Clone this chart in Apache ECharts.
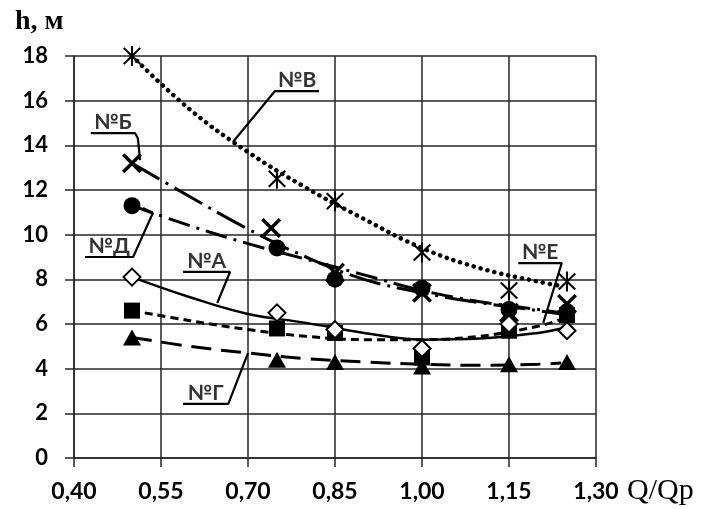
<!DOCTYPE html>
<html>
<head>
<meta charset="utf-8">
<script src="https://cdn.jsdelivr.net/npm/echarts@6/dist/echarts.min.js"></script>
<style>
  html, body { margin: 0; padding: 0; background: #fff; }
  #chart { width: 711px; height: 509px; }
</style>
</head>
<body>
<div id="chart"></div>
<script>
// axis ticks
const xTicks = [0.40, 0.55, 0.70, 0.85, 1.00, 1.15, 1.30]
const yTicks = [0, 2, 4, 6, 8, 10, 12, 14, 16, 18]

// measured points (Q/Qp, h)
const qPts = [0.50, 0.75, 0.85, 1.00, 1.15, 1.25]
const qPtsB = [0.50, 0.74, 0.85, 1.00, 1.15, 1.25]
const hV = [18.0, 12.5, 11.5, 9.2, 7.5, 7.9]    // №В
const hB = [13.2, 10.3, 8.3, 7.4, 6.5, 6.9]     // №Б
const hD = [11.3, 9.4, 8.0, 7.6, 6.65, 6.55]    // №Д
const hA = [8.1, 6.5, 5.75, 4.9, 6.0, 5.7]      // №А
const hE = [6.6, 5.8, 5.6, 4.5, 5.7, 6.4]       // №Е
const hG = [5.4, 4.4, 4.3, 4.1, 4.2, 4.3]       // №Г

// trend curves
const qTrend = [0.50, 0.60, 0.70, 0.80, 0.90, 1.00, 1.10, 1.20, 1.24]
const tV = [18.0, 15.6, 13.7, 12.1, 10.7, 9.4, 8.5, 7.9, 7.7]
const tB = [13.2, 11.7, 10.25, 9.0, 8.0, 7.4, 6.95, 6.6, 6.45]
const tD = [11.3, 10.4, 9.6, 8.9, 8.2, 7.5, 7.0, 6.65, 6.5]
const tA = [8.1, 7.2, 6.45, 6.05, 5.6, 5.3, 5.35, 5.6, 5.8]
const tE = [6.6, 6.15, 5.75, 5.45, 5.3, 5.3, 5.45, 5.9, 6.2]
const tG = [5.4, 5.0, 4.7, 4.45, 4.3, 4.2, 4.15, 4.2, 4.25]

// curve labels with leader lines (data coords)
const tagNames = ['№В', '№Б', '№Д', '№А', '№Г', '№Е']
const tagLeaders = [
  [[0.8224, 16.43], [0.7466, 16.43], [0.674, 14.15]],
  [[0.429, 14.55], [0.505, 14.55], [0.510, 14.33], [0.514, 13.34]],
  [[0.419, 9.0], [0.502, 9.0], [0.536, 10.97], [0.519, 11.19]],
  [[0.588, 8.33], [0.669, 8.33], [0.647, 6.94]],
  [[0.588, 2.42], [0.666, 2.42], [0.70, 4.70]],
  [[1.166, 8.73], [1.241, 8.73], [1.209, 6.05]]
]

const pair = (xs, ys) => xs.map((x, i) => [x, ys[i]])

const STAR = 'path://M-1,-10L1,-10L1,10L-1,10Z' +
  'M-7.29,-8.71L8.71,7.29L7.29,8.71L-8.71,-7.29Z' +
  'M7.29,-8.71L8.71,-7.29L-7.29,8.71L-8.71,7.29Z'
const CROSS = 'path://M-8.59,-11.41L11.41,8.59L8.59,11.41L-11.41,-8.59Z' +
  'M8.59,-11.41L11.41,-8.59L-8.59,11.41L-11.41,8.59Z'

const gridColor = '#262626'
const tickFont = { fontFamily: 'Lato', fontWeight: 'bold', color: '#000' }

const trend = (data, lineType, width, cap) => ({
  type: 'line',
  data: data,
  smooth: 0.4,
  showSymbol: false,
  silent: true,
  z: 2,
  lineStyle: { color: '#000', width: width, type: lineType, cap: cap || 'butt', opacity: 1 }
})

const points = (data, symbol, size, extra) => Object.assign({
  type: 'scatter',
  data: data,
  symbol: symbol,
  symbolSize: size,
  silent: true,
  z: 4,
  itemStyle: { color: '#000', opacity: 1 }
}, extra || {})

const series = [
  trend(pair(qTrend, tV), [0.1, 7], 4.5, 'round'),
  trend(pair(qTrend, tB), [32, 7, 3, 7], 3),
  trend(pair(qTrend, tD), [22, 7, 3, 7], 3),
  trend(pair(qTrend, tA), 'solid', 2.5),
  trend(pair(qTrend, tE), [8, 5], 3),
  trend(pair(qTrend, tG), [20, 10], 3),
  points(pair(qPtsB, hB), CROSS, [20, 20]),
  points(pair(qPts, hV), STAR, [18, 20]),
  points(pair(qPts, hD), 'circle', 17),
  points(pair(qPts, hE), 'rect', 16),
  points(pair(qPts, hA), 'diamond', 17, {
    itemStyle: { color: '#fff', borderColor: '#000', borderWidth: 2, opacity: 1 }
  }),
  points(pair(qPts, hG), 'triangle', [18, 16])
]

tagNames.forEach((name, i) => {
  const pts = tagLeaders[i]
  series.push({
    type: 'line',
    data: pts,
    showSymbol: false,
    silent: true,
    z: 5,
    lineStyle: { color: '#000', width: 2.2 }
  })
  series.push({
    type: 'scatter',
    data: [[(pts[0][0] + pts[1][0]) / 2, pts[0][1]]],
    symbolSize: 0,
    silent: true,
    z: 5,
    label: {
      show: true,
      position: 'top',
      distance: 0,
      formatter: name,
      fontFamily: 'Lato',
      fontWeight: 'bold',
      fontSize: 21,
      color: '#000'
    }
  })
})

const chart = echarts.init(document.getElementById('chart'))
chart.setOption({
  animation: false,
  backgroundColor: '#fff',
  grid: { left: 74, right: 115, top: 56, bottom: 51, containLabel: false },
  xAxis: {
    type: 'value',
    min: xTicks[0],
    max: xTicks[xTicks.length - 1],
    interval: 0.15,
    axisLine: { show: true, onZero: false, lineStyle: { color: gridColor, width: 1.5 } },
    axisTick: { show: true, inside: false, length: 9, lineStyle: { color: gridColor, width: 1.5 } },
    splitLine: { show: true, lineStyle: { color: gridColor, width: 1.5 } },
    axisLabel: Object.assign({
      fontSize: 23,
      margin: 22,
      formatter: v => v.toFixed(2).replace('.', ',')
    }, tickFont)
  },
  yAxis: {
    type: 'value',
    min: yTicks[0],
    max: yTicks[yTicks.length - 1],
    interval: 2,
    axisLine: { show: true, lineStyle: { color: gridColor, width: 1.5 } },
    axisTick: { show: true, inside: false, length: 9, lineStyle: { color: gridColor, width: 1.5 } },
    splitLine: { show: true, lineStyle: { color: gridColor, width: 1.5 } },
    axisLabel: Object.assign({ fontSize: 22, margin: 26 }, tickFont)
  },
  graphic: [
    {
      type: 'text', left: 15, top: 8,
      style: { text: 'h, м', font: 'bold 28px "Liberation Serif"', fill: '#000' }
    },
    {
      type: 'text', left: 627, top: 476,
      style: { text: 'Q/Qp', font: '30px "Liberation Serif"', fill: '#000' }
    }
  ],
  series: series
})
</script>
</body>
</html>
